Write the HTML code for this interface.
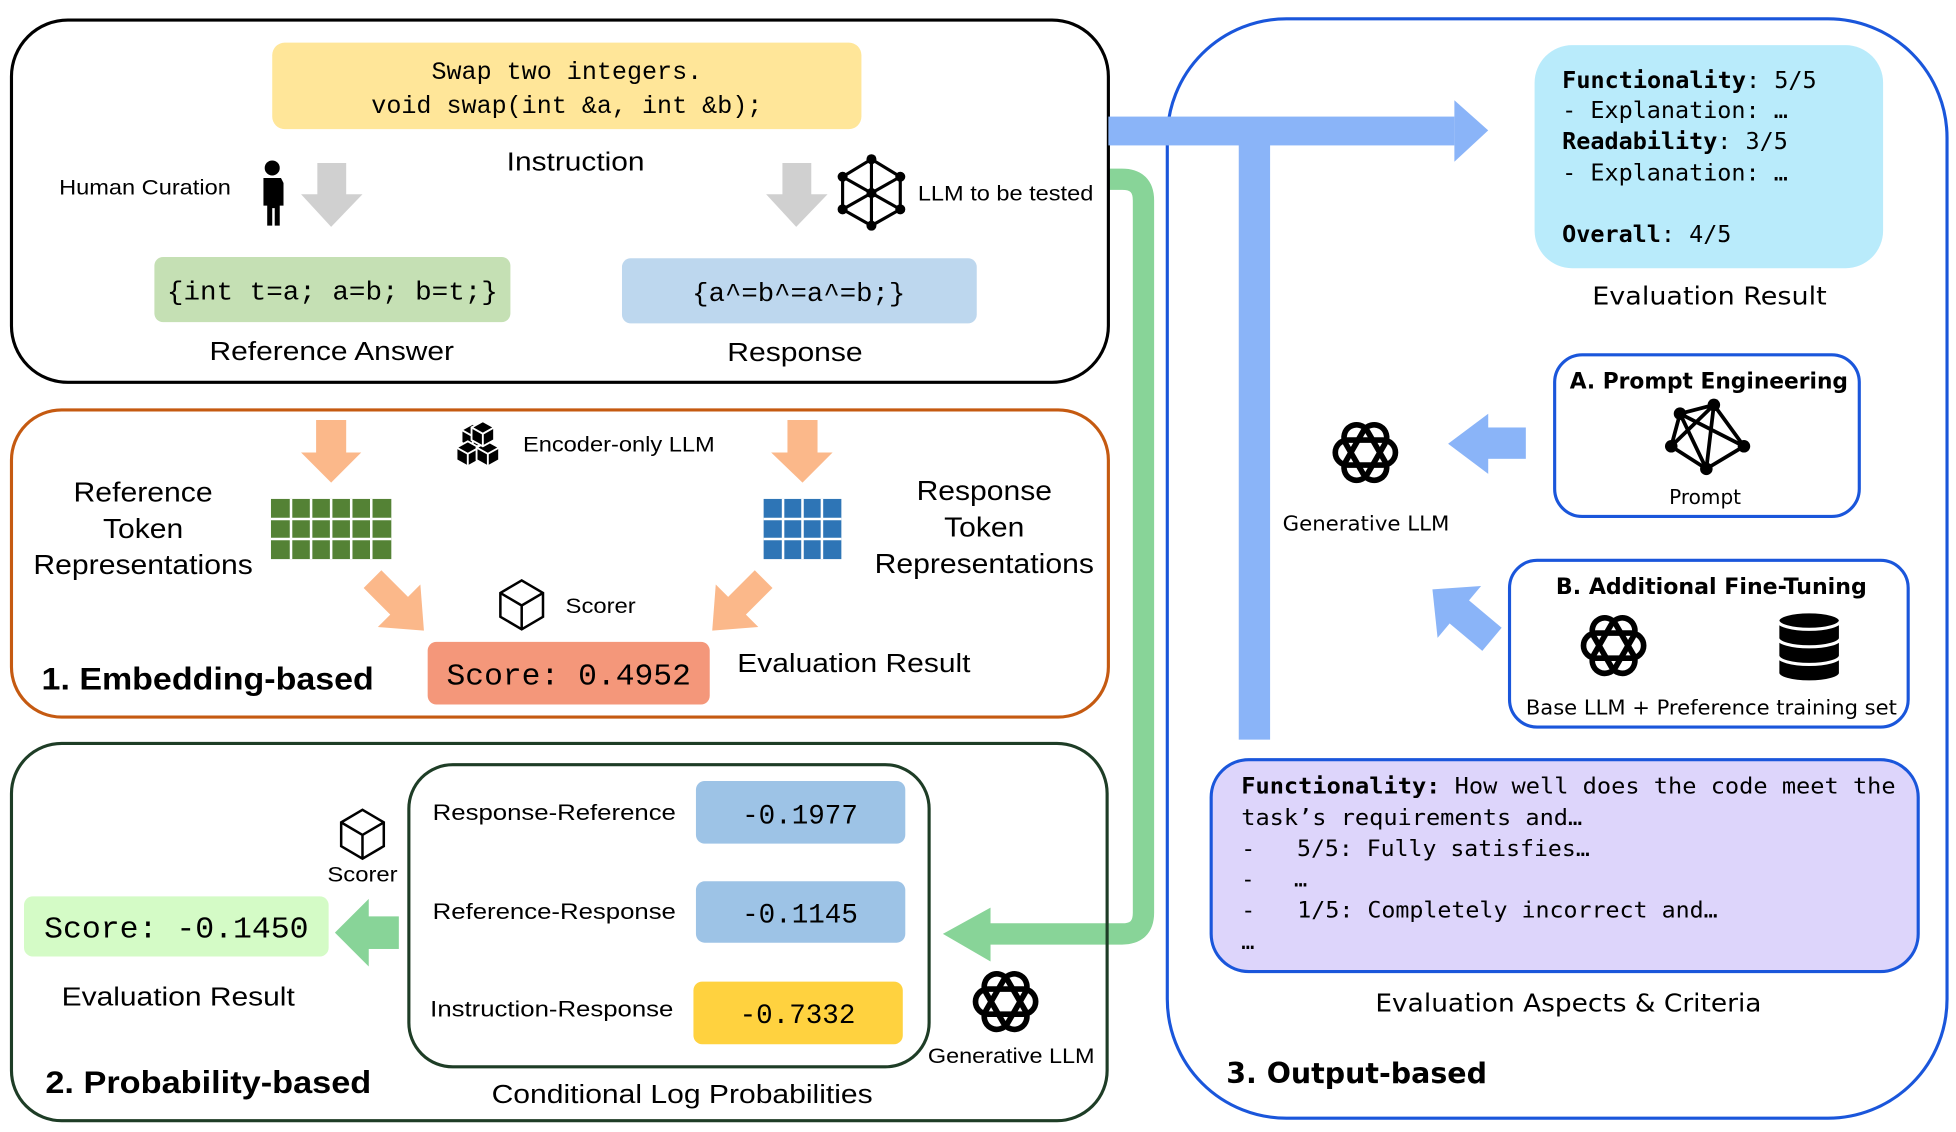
<!DOCTYPE html>
<html><head><meta charset="utf-8"><style>
html,body{margin:0;padding:0;background:#fff;width:1956px;height:1132px;overflow:hidden}
svg{display:block}
text{white-space:pre}
.s{font-family:"Liberation Sans",sans-serif;fill:#000}
.m{font-family:"Liberation Mono","DejaVu Sans Mono",monospace;fill:#000}
.d{font-family:"DejaVu Sans","Liberation Sans",sans-serif;fill:#000}
.dm{font-family:"DejaVu Sans Mono","Liberation Mono",monospace;fill:#000}
</style></head><body>
<svg width="1956" height="1132" viewBox="0 0 1560 903" xmlns="http://www.w3.org/2000/svg">
<defs>
<g id="oai" fill="none" stroke="#000" stroke-width="4.5">
  <rect x="-24" y="-10" width="48" height="20" rx="10"/>
  <rect x="-24" y="-10" width="48" height="20" rx="10" transform="rotate(60)"/>
  <rect x="-24" y="-10" width="48" height="20" rx="10" transform="rotate(120)"/>
</g>
<g id="cube" fill="#fff" stroke="#000" stroke-width="2">
  <path d="M0,-19 L17,-9 L17,10 L0,20 L-17,10 L-17,-9 Z M-17,-9 L0,1 L17,-9 M0,1 L0,20"/>
</g>
<g id="bcube" stroke="#fff" stroke-width="1.5">
  <path d="M0,-10 L9,-5 L9,5 L0,10 L-9,5 L-9,-5 Z" fill="#000"/>
  <path d="M-9,-5 L0,0 L9,-5 M0,0 L0,10" fill="none"/>
</g>
</defs>

<!-- green connector -->
<path d="M884,143 H895 Q912,143 912,160 V728 Q912,745 895,745 H788" fill="none" stroke="#88d498" stroke-width="17"/>
<polygon points="790,724 752,745 790,767" fill="#88d498"/>

<!-- top box -->
<rect x="9" y="16" width="875" height="289" rx="45" fill="none" stroke="#000" stroke-width="2.5"/>
<rect x="217" y="34" width="470" height="69" rx="10" fill="#ffe699"/>
<text class="m" x="452" y="63" font-size="20" text-anchor="middle">Swap two integers.</text>
<text class="m" x="452" y="90" font-size="20" text-anchor="middle">void swap(int &amp;a, int &amp;b);</text>
<text class="s" x="404" y="136" font-size="21" textLength="110" lengthAdjust="spacingAndGlyphs">Instruction</text>
<text class="s" x="47" y="155" font-size="17" textLength="137" lengthAdjust="spacingAndGlyphs">Human Curation</text>
<!-- person -->
<g fill="#000">
<circle cx="217" cy="134" r="6"/>
<path d="M210,142 h14 l2,4 v18 h-3 v16 h-4 v-14 h-2 v14 h-4 v-16 h-3 v-18 z"/>
</g>
<polygon points="253,130 276,130 276,155 289,155 264,181 240,155 253,155" fill="#d0d0d0"/>
<polygon points="624,130 647,130 647,155 660,155 635,181 611,155 624,155" fill="#d0d0d0"/>
<!-- network icon -->
<g stroke="#000" stroke-width="2.5" fill="none">
<path d="M695,127 L718,141 L718,167 L695,180 L672,167 L672,141 Z M672,141 L718,167 M718,141 L672,167 M695,127 L695,154 M695,154 L695,180"/>
</g>
<g fill="#000"><circle cx="695" cy="127" r="4"/><circle cx="718" cy="141" r="4"/><circle cx="718" cy="167" r="4"/><circle cx="695" cy="180" r="4"/><circle cx="672" cy="167" r="4"/><circle cx="672" cy="141" r="4"/><circle cx="695" cy="154" r="4"/></g>
<text class="s" x="732" y="160" font-size="17" textLength="140" lengthAdjust="spacingAndGlyphs">LLM to be tested</text>
<rect x="123" y="205" width="284" height="52" rx="7" fill="#c5e0b4"/>
<text class="m" x="133" y="239" font-size="21" textLength="264" lengthAdjust="spacingAndGlyphs">{int t=a; a=b; b=t;}</text>
<rect x="496" y="206" width="283" height="52" rx="7" fill="#bdd7ee"/>
<text class="m" x="552" y="240" font-size="21" textLength="170" lengthAdjust="spacingAndGlyphs">{a^=b^=a^=b;}</text>
<text class="s" x="167" y="287" font-size="21" textLength="195" lengthAdjust="spacingAndGlyphs">Reference Answer</text>
<text class="s" x="580" y="288" font-size="21" textLength="108" lengthAdjust="spacingAndGlyphs">Response</text>

<!-- embedding box -->
<rect x="9" y="327" width="875" height="245" rx="40" fill="none" stroke="#c55a11" stroke-width="2.5"/>
<polygon points="252,335 276,335 276,361 288,361 264,385 240,361 252,361" fill="#fbb88a"/>
<polygon points="628,335 652,335 652,361 664,361 640,385 615,361 628,361" fill="#fbb88a"/>
<g transform="translate(385,356)">
<use href="#bcube" x="-8" y="-8"/><use href="#bcube" x="-12" y="6"/><use href="#bcube" x="4" y="6"/><use href="#bcube" x="0" y="-10"/>
</g>
<text class="s" x="417" y="360" font-size="17" textLength="153" lengthAdjust="spacingAndGlyphs">Encoder-only LLM</text>
<text class="s" x="114" y="400" font-size="22" text-anchor="middle" textLength="111" lengthAdjust="spacingAndGlyphs">Reference</text>
<text class="s" x="114" y="429" font-size="22" text-anchor="middle" textLength="64" lengthAdjust="spacingAndGlyphs">Token</text>
<text class="s" x="114" y="458" font-size="22" text-anchor="middle" textLength="175" lengthAdjust="spacingAndGlyphs">Representations</text>
<text class="s" x="785" y="399" font-size="22" text-anchor="middle" textLength="108" lengthAdjust="spacingAndGlyphs">Response</text>
<text class="s" x="785" y="428" font-size="22" text-anchor="middle" textLength="64" lengthAdjust="spacingAndGlyphs">Token</text>
<text class="s" x="785" y="457" font-size="22" text-anchor="middle" textLength="175" lengthAdjust="spacingAndGlyphs">Representations</text>
<!-- grids -->
<rect x="216" y="398" width="96" height="48" fill="#548235"/>
<g stroke="#fff" stroke-width="2">
<path d="M232,398 V446 M248,398 V446 M264,398 V446 M280,398 V446 M296,398 V446 M216,414 H312 M216,430 H312"/>
</g>
<rect x="609" y="398" width="62" height="48" fill="#2e75b6"/>
<g stroke="#fff" stroke-width="2">
<path d="M624.5,398 V446 M640,398 V446 M655.5,398 V446 M609,414 H671 M609,430 H671"/>
</g>
<!-- diag arrows -->
<g transform="translate(297,462) rotate(45)" fill="#fbb88a"><rect x="0" y="-10" width="32" height="20"/><polygon points="30,-24 58,0 30,24"/></g>
<g transform="translate(609,462) rotate(135)" fill="#fbb88a"><rect x="0" y="-10" width="32" height="20"/><polygon points="30,-24 58,0 30,24"/></g>
<use href="#cube" x="416" y="482"/>
<text class="s" x="451" y="489" font-size="17" textLength="56" lengthAdjust="spacingAndGlyphs">Scorer</text>
<rect x="341" y="512" width="225" height="50" rx="7" fill="#f4977a"/>
<text class="m" x="356" y="546" font-size="24" textLength="195" lengthAdjust="spacingAndGlyphs">Score: 0.4952</text>
<text class="s" x="588" y="536" font-size="21" textLength="186" lengthAdjust="spacingAndGlyphs">Evaluation Result</text>
<text class="s" x="33" y="550" font-size="25" font-weight="bold" textLength="265" lengthAdjust="spacingAndGlyphs">1. Embedding-based</text>

<!-- probability box -->
<rect x="9" y="593" width="874" height="301" rx="40" fill="none" stroke="#1e3d26" stroke-width="2.5"/>
<rect x="326" y="610" width="415" height="241" rx="35" fill="none" stroke="#1e3d26" stroke-width="2.5"/>
<text class="s" x="345" y="654" font-size="18" textLength="194" lengthAdjust="spacingAndGlyphs">Response-Reference</text>
<rect x="555" y="623" width="167" height="50" rx="7" fill="#9dc3e6"/>
<text class="m" x="638" y="657" font-size="22" text-anchor="middle">-0.1977</text>
<text class="s" x="345" y="733" font-size="18" textLength="194" lengthAdjust="spacingAndGlyphs">Reference-Response</text>
<rect x="555" y="703" width="167" height="49" rx="7" fill="#9dc3e6"/>
<text class="m" x="638" y="736" font-size="22" text-anchor="middle">-0.1145</text>
<text class="s" x="343" y="811" font-size="18" textLength="194" lengthAdjust="spacingAndGlyphs">Instruction-Response</text>
<rect x="553" y="783" width="167" height="50" rx="7" fill="#ffd23f"/>
<text class="m" x="636" y="816" font-size="22" text-anchor="middle">-0.7332</text>
<text class="s" x="392" y="880" font-size="21" textLength="304" lengthAdjust="spacingAndGlyphs">Conditional Log Probabilities</text>
<use href="#cube" x="289" y="665"/>
<text class="s" x="261" y="703" font-size="17" textLength="56" lengthAdjust="spacingAndGlyphs">Scorer</text>
<rect x="19" y="715" width="243" height="48" rx="7" fill="#d4fbc6"/>
<text class="m" x="35" y="748" font-size="24" textLength="211" lengthAdjust="spacingAndGlyphs">Score: -0.1450</text>
<rect x="292" y="731" width="26" height="26" fill="#88d498"/>
<polygon points="294,717 267,744 294,771" fill="#88d498"/>
<text class="s" x="49" y="802" font-size="21" textLength="186" lengthAdjust="spacingAndGlyphs">Evaluation Result</text>
<text class="s" x="36" y="872" font-size="25" font-weight="bold" textLength="260" lengthAdjust="spacingAndGlyphs">2. Probability-based</text>
<use href="#oai" x="802" y="799"/>
<text class="s" x="740" y="848" font-size="17" textLength="133" lengthAdjust="spacingAndGlyphs">Generative LLM</text>

<!-- output box -->
<rect x="931" y="15" width="622" height="877" rx="95" fill="none" stroke="#1a56db" stroke-width="2.5"/>
<rect x="884" y="93" width="276" height="23" fill="#8ab4f8"/>
<polygon points="1160,80 1187,104 1160,129" fill="#8ab4f8"/>
<rect x="988" y="104" width="25" height="486" fill="#8ab4f8"/>
<rect x="1224" y="36" width="278" height="178" rx="30" fill="#b9ebfb"/>
<g class="dm" font-size="18.5">
<text x="1246" y="70" textLength="203" lengthAdjust="spacingAndGlyphs"><tspan font-weight="bold">Functionality</tspan>: 5/5</text>
<text x="1246" y="94" textLength="180" lengthAdjust="spacingAndGlyphs">- Explanation: …</text>
<text x="1246" y="119" textLength="180" lengthAdjust="spacingAndGlyphs"><tspan font-weight="bold">Readability</tspan>: 3/5</text>
<text x="1246" y="144" textLength="180" lengthAdjust="spacingAndGlyphs">- Explanation: …</text>
<text x="1246" y="193" textLength="135" lengthAdjust="spacingAndGlyphs"><tspan font-weight="bold">Overall</tspan>: 4/5</text>
</g>
<text class="d" x="1270" y="243" font-size="20" textLength="187" lengthAdjust="spacingAndGlyphs">Evaluation Result</text>
<rect x="1240" y="283" width="243" height="129" rx="22" fill="none" stroke="#1a56db" stroke-width="2.5"/>
<text class="d" x="1252" y="310" font-size="18" font-weight="bold" textLength="222" lengthAdjust="spacingAndGlyphs">A. Prompt Engineering</text>
<g stroke="#000" stroke-width="3" fill="none"><path d="M1340,330 L1367,323 L1391,356 L1361,374 L1333,356 Z M1340,330 L1391,356 M1367,323 L1361,374 M1367,323 L1333,356 M1340,330 L1361,374"/></g>
<g fill="#000"><circle cx="1340" cy="330" r="5"/><circle cx="1367" cy="323" r="5"/><circle cx="1391" cy="356" r="5"/><circle cx="1361" cy="374" r="5"/><circle cx="1333" cy="356" r="5"/></g>
<text class="d" x="1360" y="402" font-size="16" text-anchor="middle">Prompt</text>
<rect x="1185" y="341" width="32" height="25" fill="#8ab4f8"/>
<polygon points="1187,330 1155,354 1187,378" fill="#8ab4f8"/>
<use href="#oai" x="1089" y="361"/>
<text class="d" x="1023" y="423" font-size="16" textLength="133" lengthAdjust="spacingAndGlyphs">Generative LLM</text>
<rect x="1204" y="447" width="318" height="133" rx="22" fill="none" stroke="#1a56db" stroke-width="2.5"/>
<text class="d" x="1241" y="474" font-size="18" font-weight="bold" textLength="248" lengthAdjust="spacingAndGlyphs">B. Additional Fine-Tuning</text>
<use href="#oai" x="1287" y="515"/>
<g fill="#000" stroke="#fff" stroke-width="2.5">
<path d="M1418,525 v12 a25,7 0 0 0 50,0 v-12 z"/>
<path d="M1418,511 v12 a25,7 0 0 0 50,0 v-12 z"/>
<path d="M1418,497 v12 a25,7 0 0 0 50,0 v-12 z"/>
<ellipse cx="1443" cy="495" rx="25" ry="7"/>
</g>
<text class="d" x="1217" y="570" font-size="16" textLength="296" lengthAdjust="spacingAndGlyphs">Base LLM + Preference training set</text>
<g transform="translate(1190,510) rotate(220)" fill="#8ab4f8"><rect x="0" y="-12" width="36" height="24"/><polygon points="34,-27 62,0 34,27"/></g>
<rect x="966" y="606" width="564" height="169" rx="30" fill="#ddd5fb" stroke="#1a56db" stroke-width="2.5"/>
<g class="dm" font-size="17.5">
<text x="990" y="633" textLength="522" lengthAdjust="spacingAndGlyphs"><tspan font-weight="bold">Functionality:</tspan> How well does the code meet the</text>
<text x="990" y="658" textLength="272" lengthAdjust="spacingAndGlyphs">task’s requirements and…</text>
<text x="990" y="683" textLength="278" lengthAdjust="spacingAndGlyphs">-   5/5: Fully satisfies…</text>
<text x="990" y="707">-   …</text>
<text x="990" y="732" textLength="380" lengthAdjust="spacingAndGlyphs">-   1/5: Completely incorrect and…</text>
<text x="990" y="757">…</text>
</g>
<text class="d" x="1097" y="807" font-size="20" textLength="308" lengthAdjust="spacingAndGlyphs">Evaluation Aspects &amp; Criteria</text>
<text class="d" x="978" y="864" font-size="23" font-weight="bold" textLength="208" lengthAdjust="spacingAndGlyphs">3. Output-based</text>
</svg>
</body></html>
